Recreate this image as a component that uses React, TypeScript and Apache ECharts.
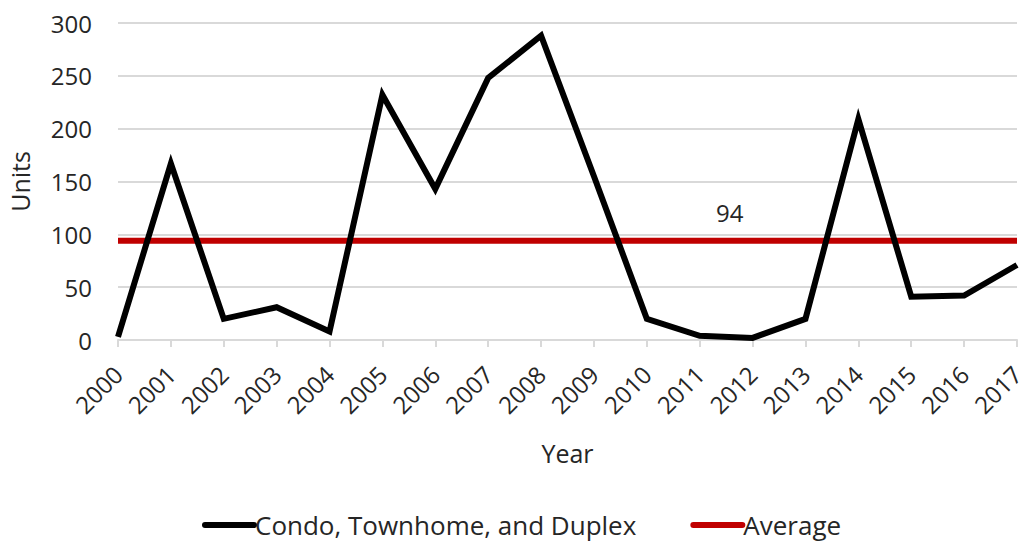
import React, { useEffect, useRef } from "react";
import * as echarts from "echarts";

const YEARS = ["2000","2001","2002","2003","2004","2005","2006","2007","2008","2009","2010","2011","2012","2013","2014","2015","2016","2017"];
const UNITS = [3, 167, 20, 31, 8, 232, 143, 248, 288, 155, 20, 4, 2, 20, 209, 41, 42, 71];
const AVERAGE = 94;
const AVG_LABEL_INDEX = 11;
const Y_TICKS = { min: 0, max: 300, interval: 50 };

const FONT = "'Open Sans', sans-serif";
const LEGEND_ICON = "path://M3,0 L52,0 A3,3 0 0 1 52,6 L3,6 A3,3 0 0 1 3,0 Z";

export default function App() {
  const ref = useRef<HTMLDivElement>(null);
  useEffect(() => {
    if (!ref.current) return;
    const chart = echarts.init(ref.current, null, { renderer: "svg" });
    chart.setOption({
      animation: false,
      textStyle: { fontFamily: FONT, color: "#262626" },
      grid: { left: 118, right: 2, top: 23, bottom: 204, containLabel: false, outerBoundsMode: "none" },
      legend: {
        bottom: 1,
        left: 197,
        itemGap: 54,
        itemWidth: 55,
        itemHeight: 6,
        textStyle: { fontSize: 26, fontFamily: FONT, color: "#262626", padding: [0, 0, 0, -7] },
        data: [
          { name: "Condo, Townhome, and Duplex", icon: LEGEND_ICON, itemStyle: { color: "#000000" } },
          { name: "Average", icon: LEGEND_ICON, itemStyle: { color: "#C00000" } },
        ],
      },
      xAxis: {
        type: "category",
        data: YEARS,
        boundaryGap: false,
        name: "Year",
        nameLocation: "middle",
        nameGap: 100,
        nameTextStyle: { fontSize: 25, fontFamily: FONT, color: "#262626" },
        axisLine: { lineStyle: { color: "#D9D9D9", width: 2 } },
        axisTick: { show: true, length: 7, lineStyle: { color: "#D9D9D9", width: 2 } },
        axisLabel: { rotate: 45, fontSize: 24, fontFamily: FONT, color: "#262626", margin: 30, interval: 0, hideOverlap: false },
        splitLine: { show: false },
      },
      yAxis: {
        type: "value",
        min: Y_TICKS.min,
        max: Y_TICKS.max,
        interval: Y_TICKS.interval,
        name: "Units",
        nameLocation: "middle",
        nameGap: 86,
        nameTextStyle: { fontSize: 25, fontFamily: FONT, color: "#262626" },
        axisLine: { show: false },
        axisTick: { show: false },
        axisLabel: { fontSize: 24, fontFamily: FONT, color: "#262626", margin: 26 },
        splitLine: { lineStyle: { color: "#D9D9D9", width: 2 } },
      },
      series: [
        {
          name: "Average",
          type: "line",
          data: YEARS.map(() => AVERAGE),
          symbol: "none",
          lineStyle: { color: "#C00000", width: 6 },
          itemStyle: { color: "#C00000" },
          z: 2,
          markPoint: {
            silent: true,
            symbol: "circle",
            symbolSize: 0,
            data: [{ coord: [YEARS[AVG_LABEL_INDEX], AVERAGE], value: AVERAGE }],
            label: {
              show: true,
              formatter: String(AVERAGE),
              position: "inside",
              offset: [30, -28],
              fontSize: 24,
              fontFamily: FONT,
              color: "#262626",
            },
          },
        },
        {
          name: "Condo, Townhome, and Duplex",
          type: "line",
          data: UNITS,
          symbol: "none",
          lineStyle: { color: "#000000", width: 6, join: "miter" },
          itemStyle: { color: "#000000" },
          z: 3,
        },
      ],
    });
    return () => chart.dispose();
  }, []);
  return <div ref={ref} style={{ width: 1019, height: 544, position: "absolute", left: 0, top: 0 }} />;
}
